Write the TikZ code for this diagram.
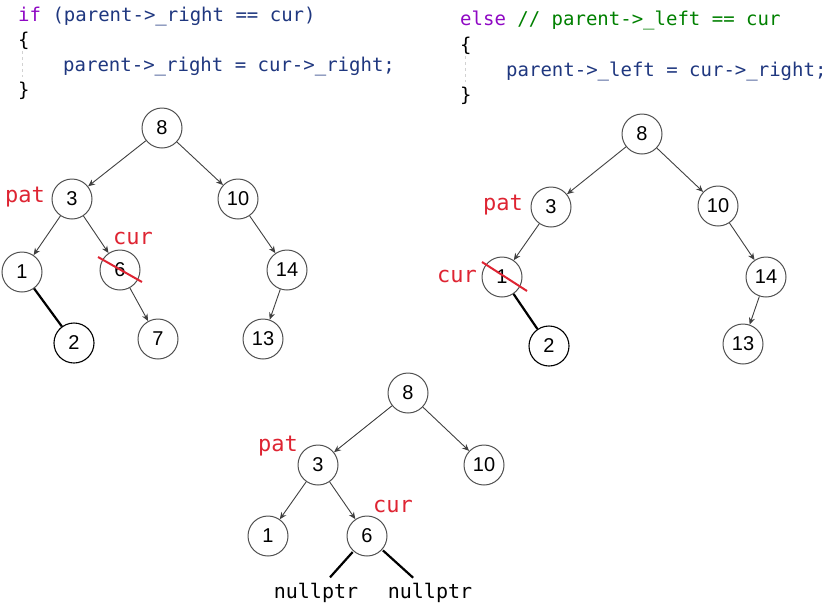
\documentclass[tikz,border=0pt]{standalone}
\usepackage{xcolor}
\usepackage{fontspec}
\setmainfont{Liberation Sans}
\setmonofont{DejaVu Sans Mono}
\usetikzlibrary{arrows.meta, positioning, calc}

\definecolor{kwpurple}{RGB}{143,8,196}
\definecolor{varblue}{RGB}{31,55,127}
\definecolor{cmtgreen}{RGB}{0,128,0}
\definecolor{labred}{RGB}{222,36,50}
\definecolor{ringgray}{RGB}{80,80,80}

\tikzset{
    bstnode/.style={circle, draw=ringgray, line width=1pt, minimum size=40pt, inner sep=0pt, font=\fontsize{20}{20}\selectfont},
    newnode/.style={bstnode, draw=black, line width=1.1pt},
    ptr/.style={-{Stealth[length=7pt, width=6pt]}, draw=black!75, line width=0.9pt},
    link/.style={draw=black, line width=2.2pt},
    strike/.style={draw=labred, line width=2pt},
    tag/.style={text=labred, inner sep=0pt, font=\ttfamily\fontsize{22}{22}\selectfont},
    nulltag/.style={inner sep=2pt, font=\ttfamily\fontsize{20}{20}\selectfont},
    codeline/.style={anchor=base west, inner sep=0pt, font=\ttfamily\fontsize{19}{19}\selectfont},
    guide/.style={draw=gray!35, dashed, line width=0.8pt}
}

\begin{document}
\begin{tikzpicture}[x=1pt, y=-1pt]
    \useasboundingbox (0,0) rectangle (826,606);

    % Code: right child case
    \node[codeline] (c1a) at (18,21) {\textcolor{kwpurple}{if} \textcolor{varblue}{(parent->\_right == cur)}};
    \node[codeline] (c1b) at (18,46) {\{};
    \node[codeline] (c1c) at (63,71) {\textcolor{varblue}{parent->\_right = cur->\_right;}};
    \node[codeline] (c1d) at (18,96) {\}};
    \draw[guide] (22,51) -- (22,77);

    % Code: left child case
    \node[codeline] (c2a) at (460,25) {\textcolor{kwpurple}{else} \textcolor{cmtgreen}{// parent->\_left == cur}};
    \node[codeline] (c2b) at (460,51) {\{};
    \node[codeline] (c2c) at (506,76) {\textcolor{varblue}{parent->\_left = cur->\_right;}};
    \node[codeline] (c2d) at (460,101) {\}};
    \draw[guide] (465,56) -- (465,82);

    % Tree 1: cur is right child
    \node[bstnode] (t1n8)  at (162,128) {8};
    \node[bstnode] (t1n3)  at (72,199)  {3};
    \node[bstnode] (t1n10) at (238,199) {10};
    \node[bstnode] (t1n1)  at (22,272)  {1};
    \node[bstnode] (t1n6)  at (120,270) {6};
    \node[bstnode] (t1n14) at (287,270) {14};
    \node[newnode] (t1n2)  at (74,343)  {2};
    \node[bstnode] (t1n7)  at (158,339) {7};
    \node[bstnode] (t1n13) at (263,339) {13};
    \node[tag] (t1pat) at (25,197) {pat};
    \node[tag] (t1cur) at (133,238) {cur};

    \foreach \a/\b in {t1n8/t1n3, t1n8/t1n10, t1n3/t1n1, t1n3/t1n6, t1n10/t1n14, t1n6/t1n7, t1n14/t1n13}
        \draw[ptr] (\a) -- (\b);
    \draw[link] (t1n1) -- (t1n2);
    \draw[strike] ([shift={(-22,-13)}]t1n6.center) -- ([shift={(22,12)}]t1n6.center);

    % Tree 2: cur is left child
    \node[bstnode] (t2n8)  at (642,134) {8};
    \node[bstnode] (t2n3)  at (551,207) {3};
    \node[bstnode] (t2n10) at (718,206) {10};
    \node[bstnode] (t2n1)  at (502,277) {1};
    \node[bstnode] (t2n14) at (766,277) {14};
    \node[newnode] (t2n2)  at (549,346) {2};
    \node[bstnode] (t2n13) at (743,344) {13};
    \node[tag] (t2pat) at (503,205) {pat};
    \node[tag] (t2cur) at (457,276) {cur};

    \foreach \a/\b in {t2n8/t2n3, t2n8/t2n10, t2n3/t2n1, t2n10/t2n14, t2n14/t2n13}
        \draw[ptr] (\a) -- (\b);
    \draw[link] (t2n1) -- (t2n2);
    \draw[strike] ([shift={(-20,-15)}]t2n1.center) -- ([shift={(25,14)}]t2n1.center);

    % Tree 3: cur has no children
    \node[bstnode] (t3n8)  at (408,393) {8};
    \node[bstnode] (t3n3)  at (318,465) {3};
    \node[bstnode] (t3n10) at (484,465) {10};
    \node[bstnode] (t3n1)  at (268,536) {1};
    \node[bstnode] (t3n6)  at (367,536) {6};
    \node[tag] (t3pat) at (278,446) {pat};
    \node[tag] (t3cur) at (393,506) {cur};
    \node[nulltag] (t3nl) at (316,593) {nullptr};
    \node[nulltag] (t3nr) at (430,593) {nullptr};

    \foreach \a/\b in {t3n8/t3n3, t3n8/t3n10, t3n3/t3n1, t3n3/t3n6}
        \draw[ptr] (\a) -- (\b);
    \draw[link, shorten <=1pt, shorten >=5pt] (t3n6) -- (t3nl);
    \draw[link, shorten <=1pt, shorten >=5pt] (t3n6) -- (t3nr);
\end{tikzpicture}
\end{document}
